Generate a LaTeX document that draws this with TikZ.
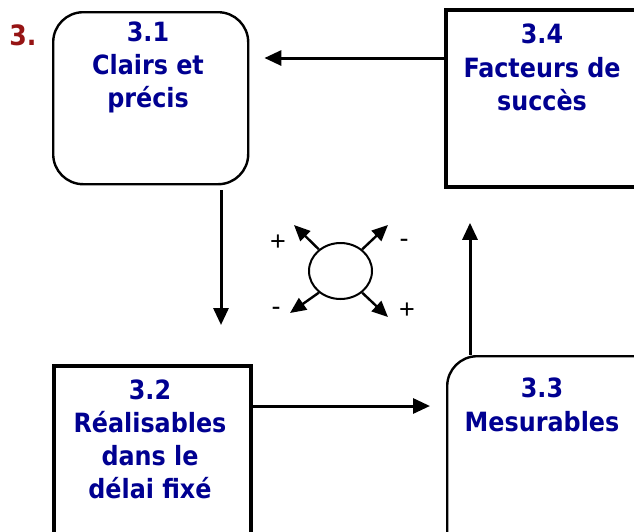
\documentclass[tikz,border=0pt]{standalone}
\usepackage{fontspec}
\setmainfont{DejaVu Sans Condensed}
\newfontfamily\signfont{Liberation Sans}
\usetikzlibrary{arrows.meta,shapes.geometric}
\definecolor{labelblue}{RGB}{0,0,145}
\definecolor{numred}{RGB}{150,20,20}
\begin{document}
\begin{tikzpicture}[x=1pt,y=-1pt,
  box/.style={draw=black,fill=none,inner sep=0pt,anchor=north west},
  roundbox/.style={box,line width=2.4pt,rounded corners=30pt},
  squarebox/.style={box,line width=3.8pt},
  txt/.style={anchor=base,inner sep=0pt,text=labelblue,font=\fontsize{26.5}{33}\selectfont\bfseries},
  flow/.style={line width=3pt,-{Triangle[length=17pt,width=15pt]}},
  spoke/.style={line width=2.4pt,-{Triangle[length=16pt,width=14pt]}},
  sign/.style={inner sep=0pt,font=\signfont\fontsize{27}{27}\selectfont}]
\useasboundingbox (0,0) rectangle (634,531);

% the four boxes
\node[roundbox,minimum width=195pt,minimum height=172pt] (b31) at (52,11) {};
\node[squarebox,minimum width=220pt,minimum height=177pt] (b34) at (444,8) {};
\node[squarebox,minimum width=197pt,minimum height=200pt] (b32) at (52,364) {};
\node[roundbox,minimum width=220pt,minimum height=230pt] (b33) at (446,355) {};

% section number
\node[anchor=base,inner sep=0pt,text=numred,font=\fontsize{28}{30}\selectfont\bfseries] (num) at (23,45) {3.};

% box texts
\node[txt] (t31a) at (148,41) {3.1};
\node[txt] (t31b) at (148,74) {Clairs et};
\node[txt] (t31c) at (148,107) {précis};

\node[txt] (t34a) at (542,43) {3.4};
\node[txt] (t34b) at (542,77) {Facteurs de};
\node[txt] (t34c) at (542,110) {succès};

\node[txt] (t32a) at (150,399) {3.2};
\node[txt] (t32b) at (150,432) {Réalisables};
\node[txt] (t32c) at (150,465) {dans le};
\node[txt] (t32d) at (150,498) {délai fixé};

\node[txt] (t33a) at (542,397) {3.3};
\node[txt] (t33b) at (542,431) {Mesurables};

% cycle of arrows
\draw[flow,shorten >=15pt] (b34.west |- 0,58) -- (b31.east |- 0,58);
\draw[flow,shorten <=5pt,shorten >=39pt] (b31.south -| 221,0) -- (b32.north -| 221,0);
\draw[flow,shorten >=16pt] (b32.east |- 0,406) -- (b33.west |- 0,406);
\draw[flow,shorten >=34pt] (b33.north -| 470,0) -- (b34.south -| 470,0);

% central circle with its four spokes
\node[draw,line width=2pt,ellipse,minimum width=63pt,minimum height=56pt,inner sep=0pt] (c) at (340.5,271) {};
\coordinate (nw) at (294,225);
\coordinate (ne) at (388,225);
\coordinate (sw) at (290,313);
\coordinate (se) at (388,317);
\draw[spoke] (c.135) -- (nw);
\draw[spoke] (c.45) -- (ne);
\draw[spoke] (c.225) -- (sw);
\draw[spoke] (c.315) -- (se);

\node[sign] (pnw) at (278,243) {+};
\node[sign] (mne) at (404,243) {-};
\node[sign] (msw) at (276,311) {-};
\node[sign] (pse) at (407,311) {+};
\end{tikzpicture}
\end{document}
